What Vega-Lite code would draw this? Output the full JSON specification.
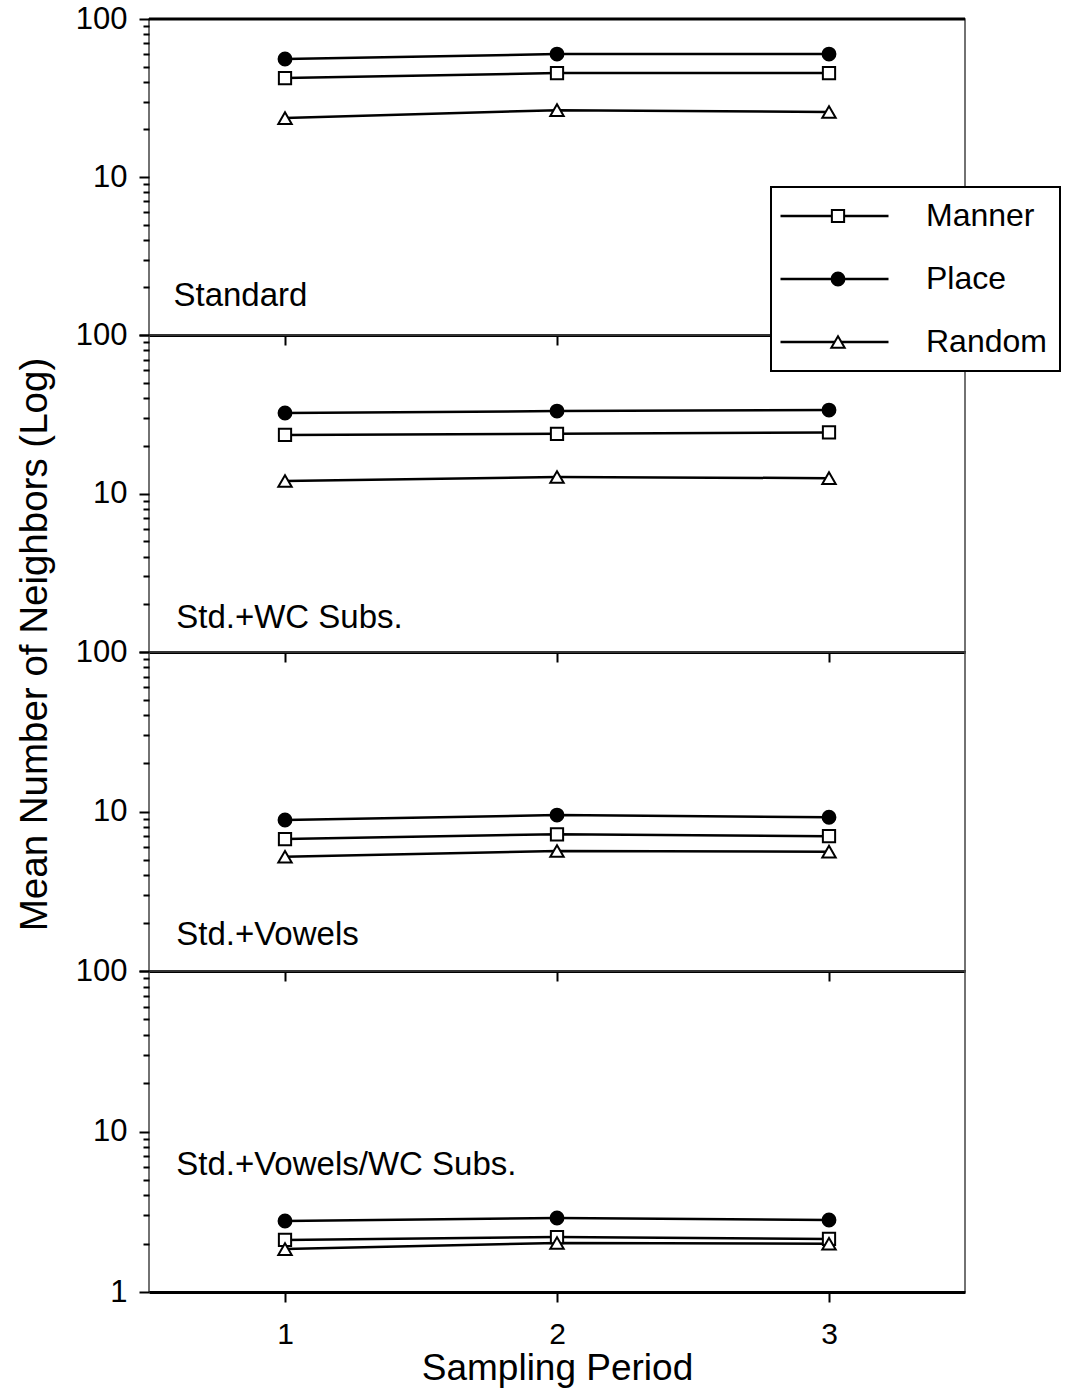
{
  "$schema": "https://vega.github.io/schema/vega-lite/v6.json",
  "background": "white",
  "padding": {"left": 14, "top": 2, "right": 0, "bottom": 2},
  "spacing": 0,
  "bounds": "flush",
  "datasets": {
    "labels": [
      {"panel": "Standard", "label": "Standard"}
    ],
    "d": [
      {"panel": "Standard", "series": "Manner", "period": 1, "value": 42.3},
      {"panel": "Standard", "series": "Manner", "period": 2, "value": 45.5},
      {"panel": "Standard", "series": "Manner", "period": 3, "value": 45.5},
      {"panel": "Standard", "series": "Place", "period": 1, "value": 55.8},
      {"panel": "Standard", "series": "Place", "period": 2, "value": 60},
      {"panel": "Standard", "series": "Place", "period": 3, "value": 60},
      {"panel": "Standard", "series": "Random", "period": 1, "value": 23.6},
      {"panel": "Standard", "series": "Random", "period": 2, "value": 26.5},
      {"panel": "Standard", "series": "Random", "period": 3, "value": 25.8},
      {"panel": "WC", "series": "Manner", "period": 1, "value": 23.4},
      {"panel": "WC", "series": "Manner", "period": 2, "value": 23.8},
      {"panel": "WC", "series": "Manner", "period": 3, "value": 24.3},
      {"panel": "WC", "series": "Place", "period": 1, "value": 32.2},
      {"panel": "WC", "series": "Place", "period": 2, "value": 33.1},
      {"panel": "WC", "series": "Place", "period": 3, "value": 33.6},
      {"panel": "WC", "series": "Random", "period": 1, "value": 12.0},
      {"panel": "WC", "series": "Random", "period": 2, "value": 12.7},
      {"panel": "WC", "series": "Random", "period": 3, "value": 12.5},
      {"panel": "Vowels", "series": "Manner", "period": 1, "value": 6.72},
      {"panel": "Vowels", "series": "Manner", "period": 2, "value": 7.2},
      {"panel": "Vowels", "series": "Manner", "period": 3, "value": 7.0},
      {"panel": "Vowels", "series": "Place", "period": 1, "value": 8.85},
      {"panel": "Vowels", "series": "Place", "period": 2, "value": 9.5},
      {"panel": "Vowels", "series": "Place", "period": 3, "value": 9.2},
      {"panel": "Vowels", "series": "Random", "period": 1, "value": 5.2},
      {"panel": "Vowels", "series": "Random", "period": 2, "value": 5.65},
      {"panel": "Vowels", "series": "Random", "period": 3, "value": 5.6},
      {"panel": "VowelsWC", "series": "Manner", "period": 1, "value": 2.11},
      {"panel": "VowelsWC", "series": "Manner", "period": 2, "value": 2.2},
      {"panel": "VowelsWC", "series": "Manner", "period": 3, "value": 2.14},
      {"panel": "VowelsWC", "series": "Place", "period": 1, "value": 2.77},
      {"panel": "VowelsWC", "series": "Place", "period": 2, "value": 2.89},
      {"panel": "VowelsWC", "series": "Place", "period": 3, "value": 2.81},
      {"panel": "VowelsWC", "series": "Random", "period": 1, "value": 1.85},
      {"panel": "VowelsWC", "series": "Random", "period": 2, "value": 2.02},
      {"panel": "VowelsWC", "series": "Random", "period": 3, "value": 2.0}
    ]
  },
  "vconcat": [
    {
      "width": 816, "height": 316,
      "layer": [
        {"data": {"name": "d"}, "transform": [{"filter": "datum.panel === 'Standard' && datum.series === 'Manner' && datum.period === 1"}],
          "mark": {"type": "rule", "color": "black", "strokeWidth": 3},
          "encoding": {"y": {"datum": 100, "type": "quantitative", "scale": {"type": "log", "domain": [1, 100], "nice": false}}, "x": {"datum": 0.5, "type": "quantitative", "scale": {"domain": [0.5, 3.5], "nice": false, "zero": false}}, "x2": {"datum": 3.5}}},
        {"data": {"name": "d"}, "transform": [{"filter": "datum.panel === 'Standard'"}],
          "mark": {"type": "line", "strokeWidth": 2.5},
          "encoding": {
            "x": {"field": "period", "type": "quantitative", "scale": {"domain": [0.5, 3.5], "nice": false, "zero": false},
              "axis": {"orient": "bottom", "values": [1, 2, 3], "labels": false, "tickSize": 10, "tickWidth": 2, "tickColor": "black", "domainWidth": 3, "domainColor": "black", "title": null, "grid": false}},
            "y": {"field": "value", "type": "quantitative", "scale": {"type": "log", "domain": [1, 100], "nice": false},
              "axis": {"values": [1,2,3,4,5,6,7,8,9,10,20,30,40,50,60,70,80,90,100], "labelExpr": "datum.value == 100 || datum.value == 10 ? datum.value + '' : ''", "labelOverlap": false, "labelFlush": false, "tickSize": {"condition": {"test": "datum.value == 1 || datum.value == 10 || datum.value == 100", "value": 10}, "value": 6}, "tickWidth": 2, "tickColor": "black", "domain": false, "labelFontSize": 31, "labelPadding": 12, "grid": false, "title": null}},
            "color": {"field": "series", "type": "nominal", "scale": {"range": ["black", "black", "black"]},
              "legend": {"title": null, "orient": "none", "legendX": 622, "legendY": 168, "padding": 13, "strokeColor": "transparent", "fillColor": "white",
                "symbolType": "M-9,0H9", "symbolSize": 144, "symbolStrokeWidth": 2.5, "symbolOffset": 34.5, "labelOffset": 75.5,
                "labelFontSize": 32, "labelOpacity": 0, "labelFont": "Liberation Sans", "rowPadding": 31, "zindex": 1}}}},
        {"data": {"name": "d"}, "transform": [{"filter": "datum.panel === 'Standard'"}],
          "mark": {"type": "point", "filled": true, "stroke": "black", "strokeWidth": 2, "opacity": 1},
          "encoding": {
            "x": {"field": "period", "type": "quantitative"},
            "y": {"field": "value", "type": "quantitative"},
            "shape": {"field": "series", "type": "nominal", "scale": {"domain": ["Manner", "Place", "Random"], "range": ["square", "circle", "triangle-up"]},
              "legend": {"title": null, "orient": "none", "legendX": 622, "legendY": 168, "padding": 13, "strokeColor": "black", "fillColor": "transparent",
                "symbolStrokeColor": "black", "symbolStrokeWidth": 2, "symbolOpacity": 1, "symbolOffset": 38, "labelOffset": 72,
                "labelFontSize": 32, "labelColor": "black", "labelFont": "Liberation Sans", "rowPadding": 31, "zindex": 2}},
            "fill": {"field": "series", "type": "nominal", "scale": {"domain": ["Manner", "Place", "Random"], "range": ["white", "black", "white"]}},
            "size": {"field": "series", "type": "nominal", "scale": {"domain": ["Manner", "Place", "Random"], "range": [150, 180, 480]}}
          }},
        {"data": {"name": "labels"}, "transform": [{"filter": "datum.panel === 'Standard'"}],
          "mark": {"type": "text", "align": "left", "baseline": "alphabetic", "fontSize": 33, "font": "Liberation Sans", "color": "black"},
          "encoding": {"x": {"datum": 0.59, "type": "quantitative"}, "y": {"datum": 1.52, "type": "quantitative"}, "text": {"field": "label"}}}
      ]
    },
    {
      "width": 816, "height": 317,
      "data": {"name": "d"},
      "transform": [{"filter": "datum.panel === 'WC'"}],
      "encoding": {
        "x": {"field": "period", "type": "quantitative", "scale": {"domain": [0.5, 3.5], "nice": false, "zero": false},
          "axis": {"orient": "bottom", "values": [1, 2, 3], "labels": false, "tickSize": 10, "tickWidth": 2, "tickColor": "black", "domainWidth": 3, "domainColor": "black", "title": null, "grid": false}},
        "y": {"field": "value", "type": "quantitative", "scale": {"type": "log", "domain": [1, 100], "nice": false},
          "axis": {"values": [1,2,3,4,5,6,7,8,9,10,20,30,40,50,60,70,80,90,100], "labelExpr": "datum.value == 100 || datum.value == 10 ? datum.value + '' : ''", "labelOverlap": false, "labelFlush": false, "tickSize": {"condition": {"test": "datum.value == 1 || datum.value == 10 || datum.value == 100", "value": 10}, "value": 6}, "tickWidth": 2, "tickColor": "black", "domain": false, "labelFontSize": 31, "labelPadding": 12, "grid": false,
            "title": "Mean Number of Neighbors (Log)", "titleFontSize": 38.5, "titleFontWeight": "normal", "titleFont": "Liberation Sans", "titleColor": "black", "titleX": -115, "titleY": 309, "titleAngle": -90, "titleAlign": "center", "titleBaseline": "middle"}}
      },
      "layer": [
        {"mark": {"type": "line", "strokeWidth": 2.5}, "encoding": {"color": {"field": "series", "type": "nominal", "scale": {"range": ["black", "black", "black"]}}}},
        {"mark": {"type": "point", "filled": true, "stroke": "black", "strokeWidth": 2, "opacity": 1},
          "encoding": {
            "shape": {"field": "series", "type": "nominal", "scale": {"domain": ["Manner", "Place", "Random"], "range": ["square", "circle", "triangle-up"]}},
            "fill": {"field": "series", "type": "nominal", "scale": {"domain": ["Manner", "Place", "Random"], "range": ["white", "black", "white"]}},
            "size": {"field": "series", "type": "nominal", "scale": {"domain": ["Manner", "Place", "Random"], "range": [150, 180, 480]}}
          }},
        {"transform": [{"filter": "datum.series === 'Manner' && datum.period === 1"}],
          "mark": {"type": "text", "align": "left", "baseline": "alphabetic", "fontSize": 33, "font": "Liberation Sans", "color": "black"},
          "encoding": {"x": {"datum": 0.6, "type": "quantitative"}, "y": {"datum": 1.415, "type": "quantitative"}, "text": {"value": "Std.+WC Subs."}}}
      ]
    },
    {
      "width": 816, "height": 319,
      "data": {"name": "d"},
      "transform": [{"filter": "datum.panel === 'Vowels'"}],
      "encoding": {
        "x": {"field": "period", "type": "quantitative", "scale": {"domain": [0.5, 3.5], "nice": false, "zero": false},
          "axis": {"orient": "bottom", "values": [1, 2, 3], "labels": false, "tickSize": 10, "tickWidth": 2, "tickColor": "black", "domainWidth": 3, "domainColor": "black", "title": null, "grid": false}},
        "y": {"field": "value", "type": "quantitative", "scale": {"type": "log", "domain": [1, 100], "nice": false},
          "axis": {"values": [1,2,3,4,5,6,7,8,9,10,20,30,40,50,60,70,80,90,100], "labelExpr": "datum.value == 100 || datum.value == 10 ? datum.value + '' : ''", "labelOverlap": false, "labelFlush": false, "tickSize": {"condition": {"test": "datum.value == 1 || datum.value == 10 || datum.value == 100", "value": 10}, "value": 6}, "tickWidth": 2, "tickColor": "black", "domain": false, "labelFontSize": 31, "labelPadding": 12, "grid": false, "title": null}}
      },
      "layer": [
        {"mark": {"type": "line", "strokeWidth": 2.5}, "encoding": {"color": {"field": "series", "type": "nominal", "scale": {"range": ["black", "black", "black"]}}}},
        {"mark": {"type": "point", "filled": true, "stroke": "black", "strokeWidth": 2, "opacity": 1},
          "encoding": {
            "shape": {"field": "series", "type": "nominal", "scale": {"domain": ["Manner", "Place", "Random"], "range": ["square", "circle", "triangle-up"]}},
            "fill": {"field": "series", "type": "nominal", "scale": {"domain": ["Manner", "Place", "Random"], "range": ["white", "black", "white"]}},
            "size": {"field": "series", "type": "nominal", "scale": {"domain": ["Manner", "Place", "Random"], "range": [150, 180, 480]}}
          }},
        {"transform": [{"filter": "datum.series === 'Manner' && datum.period === 1"}],
          "mark": {"type": "text", "align": "left", "baseline": "alphabetic", "fontSize": 33, "font": "Liberation Sans", "color": "black"},
          "encoding": {"x": {"datum": 0.6, "type": "quantitative"}, "y": {"datum": 1.46, "type": "quantitative"}, "text": {"value": "Std.+Vowels"}}}
      ]
    },
    {
      "width": 816, "height": 321,
      "data": {"name": "d"},
      "transform": [{"filter": "datum.panel === 'VowelsWC'"}],
      "encoding": {
        "x": {"field": "period", "type": "quantitative", "scale": {"domain": [0.5, 3.5], "nice": false, "zero": false},
          "axis": {"orient": "bottom", "values": [1, 2, 3], "format": "d", "tickSize": 10, "tickWidth": 2, "tickColor": "black", "domainWidth": 3, "domainColor": "black", "labelFontSize": 30, "labelPadding": 17, "labelFlush": false, "grid": false,
            "title": "Sampling Period", "titleFontSize": 37, "titleFontWeight": "normal", "titlePadding": 1}},
        "y": {"field": "value", "type": "quantitative", "scale": {"type": "log", "domain": [1, 100], "nice": false},
          "axis": {"values": [1,2,3,4,5,6,7,8,9,10,20,30,40,50,60,70,80,90,100], "labelExpr": "datum.value == 100 || datum.value == 10 || datum.value == 1 ? datum.value + '' : ''", "labelOverlap": false, "labelFlush": false, "tickSize": {"condition": {"test": "datum.value == 1 || datum.value == 10 || datum.value == 100", "value": 10}, "value": 6}, "tickWidth": 2, "tickColor": "black", "domain": false, "labelFontSize": 31, "labelPadding": 12, "grid": false, "title": null}}
      },
      "layer": [
        {"mark": {"type": "line", "strokeWidth": 2.5}, "encoding": {"color": {"field": "series", "type": "nominal", "scale": {"range": ["black", "black", "black"]}}}},
        {"mark": {"type": "point", "filled": true, "stroke": "black", "strokeWidth": 2, "opacity": 1},
          "encoding": {
            "shape": {"field": "series", "type": "nominal", "scale": {"domain": ["Manner", "Place", "Random"], "range": ["square", "circle", "triangle-up"]}},
            "fill": {"field": "series", "type": "nominal", "scale": {"domain": ["Manner", "Place", "Random"], "range": ["white", "black", "white"]}},
            "size": {"field": "series", "type": "nominal", "scale": {"domain": ["Manner", "Place", "Random"], "range": [150, 180, 480]}}
          }},
        {"transform": [{"filter": "datum.series === 'Manner' && datum.period === 1"}],
          "mark": {"type": "text", "align": "left", "baseline": "alphabetic", "fontSize": 33, "font": "Liberation Sans", "color": "black"},
          "encoding": {"x": {"datum": 0.6, "type": "quantitative"}, "y": {"datum": 5.38, "type": "quantitative"}, "text": {"value": "Std.+Vowels/WC Subs."}}}
      ]
    }
  ],
  "resolve": {"scale": {"shape": "shared", "fill": "shared", "size": "shared", "color": "shared"}, "legend": {"shape": "shared", "color": "shared"}},
  "config": {
    "view": {"stroke": "#444", "strokeWidth": 1.5},
    "font": "Liberation Sans",
    "legend": {"strokeWidth": 2},
    "axis": {"labelFont": "Liberation Sans", "titleFont": "Liberation Sans", "labelColor": "black", "titleColor": "black"}
  }
}
